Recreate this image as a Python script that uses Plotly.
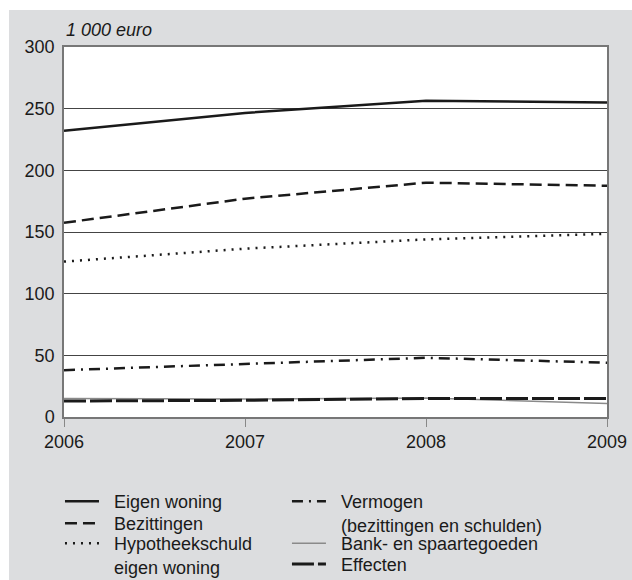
import plotly.graph_objects as go

years = [2006, 2007, 2008, 2009]
eigen_woning = [232, 246.5, 256.5, 255]
bezittingen = [157.5, 177, 190, 187.5]
hypotheekschuld = [126, 136.5, 144, 148.5]
vermogen = [38, 43, 48, 44]
bank = [15, 14.5, 15.5, 11]
effecten = [13, 13.5, 15, 15]

FONT = "Liberation Sans, Arial, sans-serif"
GRAY_BG = "#dcdddf"
PAD = "\u00a0\u00a0"

fig = go.Figure()

def add(name, y, color, width, dash, legend):
    fig.add_trace(go.Scatter(
        x=years, y=y, name=name, mode="lines",
        line=dict(color=color, width=width, dash=dash),
        legend=legend, hoverinfo="skip"))

add(PAD + "Eigen woning", eigen_woning, "#1a1a1a", 2.5, "solid", "legend")
add(PAD + "Bezittingen", bezittingen, "#1a1a1a", 2.5, "12px,6px", "legend2")
add(PAD + "Hypotheekschuld<br>" + PAD + "eigen woning", hypotheekschuld, "#1a1a1a", 2.5, "2px,6px", "legend3")
add(PAD + "Vermogen<br>" + PAD + "(bezittingen en schulden)", vermogen, "#1a1a1a", 2.5, "11px,6px,2px,6px", "legend4")
add(PAD + "Bank- en spaartegoeden", bank, "#8a8a8a", 1.5, "solid", "legend5")
add(PAD + "Effecten", effecten, "#1a1a1a", 3, "22px,4px", "legend6")

def leg(x, y):
    return dict(x=x, y=y, xanchor="left", yanchor="top",
                bgcolor="rgba(0,0,0,0)", font=dict(size=18, family=FONT, color="#1a1a1a"),
                valign="top", tracegroupgap=0, itemwidth=34)

x1, x2 = -0.0074, 0.4106
fig.update_layout(
    width=632, height=580,
    margin=dict(l=64, r=25, t=47, b=163, pad=0, autoexpand=False),
    paper_bgcolor=GRAY_BG,
    plot_bgcolor="white",
    font=dict(family=FONT, size=18, color="#1a1a1a"),
    showlegend=True,
    legend=leg(x1, -0.1784),
    legend2=leg(x1, -0.2378),
    legend3=leg(x1, -0.2919),
    legend4=leg(x2, -0.1784),
    legend5=leg(x2, -0.2919),
    legend6=leg(x2, -0.3484),
    xaxis=dict(
        range=[2006, 2009], tickvals=years, ticktext=[str(y) for y in years],
        ticks="outside", ticklen=8, tickcolor="#888", tickwidth=1,
        showgrid=False, showline=True, linecolor="#777", linewidth=1.5,
        mirror=True, zeroline=False, fixedrange=True,
    ),
    yaxis=dict(
        range=[0, 300], dtick=50, tick0=0,
        ticks="", ticklabelstandoff=4,
        showgrid=True, gridcolor="#444", gridwidth=1,
        showline=True, linecolor="#777", linewidth=1.5, mirror=True,
        zeroline=False, fixedrange=True,
    ),
    annotations=[dict(
        text="<i>1 000 euro</i>", x=0, y=1.046, xref="paper", yref="paper",
        xanchor="left", yanchor="middle", showarrow=False,
        font=dict(size=18, family=FONT, color="#1a1a1a"),
    )],
    shapes=[
        dict(type="rect", xref="paper", yref="paper", x0=-0.3, x1=1.3,
             y0=1.1, y1=1.3, fillcolor="white", line=dict(width=0), layer="below"),
        dict(type="rect", xref="paper", yref="paper", x0=-0.3, x1=-0.1013,
             y0=-0.6, y1=1.3, fillcolor="white", line=dict(width=0), layer="below"),
    ],
)

fig.write_html(
    "out.html",
    config={"displayModeBar": False},
    post_script="document.body.style.margin='0';document.documentElement.style.overflow='hidden';document.body.style.overflow='hidden';",
)
